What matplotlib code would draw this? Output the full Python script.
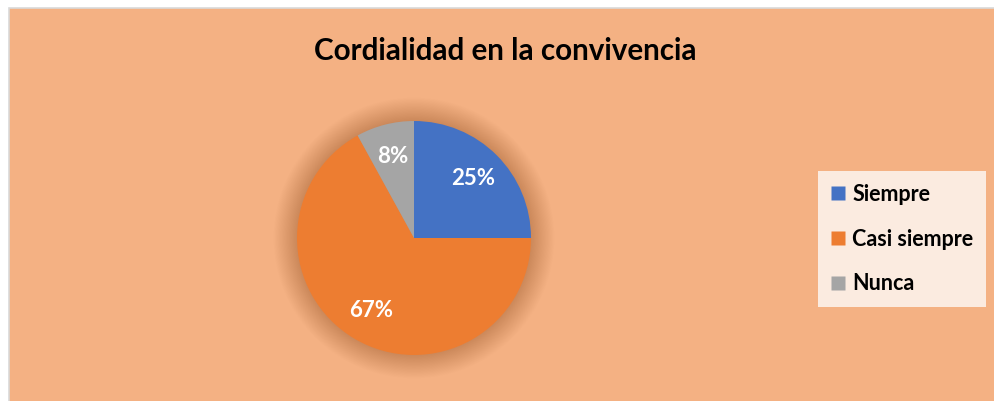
import matplotlib
matplotlib.use("Agg")
import matplotlib.pyplot as plt
from matplotlib.patches import Circle, Rectangle
from matplotlib.lines import Line2D

# Data
categories = ["Siempre", "Casi siempre", "Nunca"]
values = [25, 67, 8]
colors = ["#4472C4", "#ED7D31", "#A5A5A5"]
title = "Cordialidad en la convivencia"

FONT = "Lato"
W, H = 994, 401
fig = plt.figure(figsize=(W / 100, H / 100), dpi=100)
fig.patch.set_facecolor("white")

# chart area background with grey border
bg = Rectangle((8.5 / W, -0.01), 1.02 - 8.5 / W, 1.01 - 7.5 / H, transform=fig.transFigure,
               facecolor="#F4B183", edgecolor="#D9D9D9", linewidth=1.2, zorder=-5)
fig.patches.append(bg)

# pie axes
cx, cy, r = 414, 238, 117
lim = 1.3
half = r * lim
ax = fig.add_axes([(cx - half) / W, (H - cy - half) / H, 2 * half / W, 2 * half / H])
ax.patch.set_visible(False)

# soft shadow halo
n = 40
for k in range(n):
    rr = 1.0 + 0.2 * (n - k) / n
    ax.add_patch(Circle((0, 0), rr, facecolor="#8a4a20", edgecolor="none", alpha=0.009, zorder=0))

wedges, texts, autotexts = ax.pie(values, colors=colors, startangle=90, counterclock=False,
                                  autopct=lambda p: f"{p:.0f}%", pctdistance=0.72,
                                  radius=1.0, frame=True,
                                  wedgeprops=dict(linewidth=0, edgecolor="none"),
                                  textprops=dict(color="white", fontsize=16, fontweight="bold",
                                                 family=FONT))
ax.set_xlim(-lim, lim)
ax.set_ylim(-lim, lim)
ax.set_aspect("equal")
ax.axis("off")

# title
t = fig.text(505.5 / W, 1 - 60 / H, title, ha="center", va="baseline",
             fontsize=20, fontweight="bold", family=FONT, color="black")
fig.canvas.draw()
w = t.get_window_extent().width
t.set_fontsize(20 * 383 / w)

# legend
handles = [Line2D([], [], marker="s", linestyle="none", markersize=10.5,
                  markerfacecolor=c, markeredgecolor="none") for c in colors]
leg = fig.legend(handles, categories, loc="upper left",
                 bbox_to_anchor=(818 / W, 1 - 171 / H),
                 frameon=True, fancybox=False, facecolor="#FBEBE0", edgecolor="none",
                 framealpha=1, handlelength=0.7, handletextpad=0.3, labelspacing=1.1,
                 borderpad=0.6, borderaxespad=0,
                 prop=dict(family=FONT, weight="bold", size=15.5))

fig.savefig("out.png", dpi=100, facecolor=fig.get_facecolor())
